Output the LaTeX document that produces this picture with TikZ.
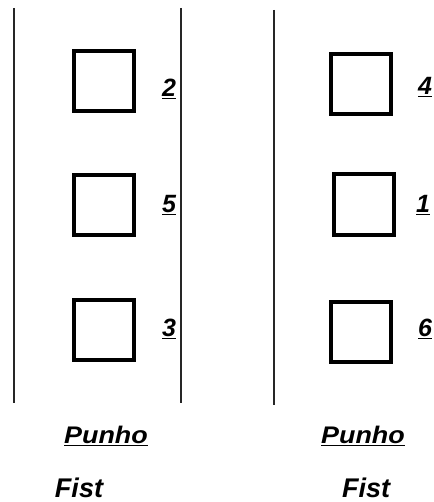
\documentclass[tikz,border=0pt]{standalone}
\usepackage{fontspec}
\setmainfont{Liberation Sans}
\usepackage{graphicx}
\begin{document}
\begin{tikzpicture}[x=1pt,y=-1pt,
  sq/.style={draw=black,line width=4pt,minimum width=60pt,minimum height=60pt,inner sep=0pt},
  rule/.style={draw=black!85,line width=1.3pt},
  num/.style={font=\fontsize{25}{25}\selectfont\bfseries\itshape,inner sep=0pt},
  pun/.style={font=\fontsize{24}{24}\selectfont\bfseries\itshape,inner sep=0pt},
  fist/.style={font=\fontsize{27}{27}\selectfont\bfseries\itshape,inner sep=0pt}]
\useasboundingbox (0,0) rectangle (433,502);
% vertical rules
\coordinate (l1t) at (14,8); \coordinate (l1b) at (14,403);
\coordinate (l2t) at (181,8); \coordinate (l2b) at (181,403);
\coordinate (l3t) at (274,10); \coordinate (l3b) at (274,405);
\draw[rule] (l1t) -- (l1b);
\draw[rule] (l2t) -- (l2b);
\draw[rule] (l3t) -- (l3b);
% left boxes
\node[sq] (a1) at (103.5,81.5) {};
\node[sq] (a2) at (103.5,205) {};
\node[sq] (a3) at (103.5,329.5) {};
% right boxes
\node[sq] (b1) at (360.5,84) {};
\node[sq] (b2) at (363.5,204.5) {};
\node[sq] (b3) at (360.5,332) {};
% numbers
\node[num] (n2) at (169,89) {\underline{2}};
\node[num] (n5) at (169,205) {\underline{5}};
\node[num] (n3) at (169,329) {\underline{3}};
\node[num] (n4) at (425,87) {\underline{4}};
\node[num] (n1) at (423,205) {\underline{1}};
\node[num] (n6) at (425,329) {\underline{6}};
% captions
\node[pun] (p1) at (106,436) {\scalebox{1.12}[1]{\underline{Punho}}};
\node[pun] (p2) at (363,436) {\scalebox{1.12}[1]{\underline{Punho}}};
\node[fist] (f1) at (79,488) {Fist};
\node[fist] (f2) at (366,488) {Fist};
\end{tikzpicture}
\end{document}
